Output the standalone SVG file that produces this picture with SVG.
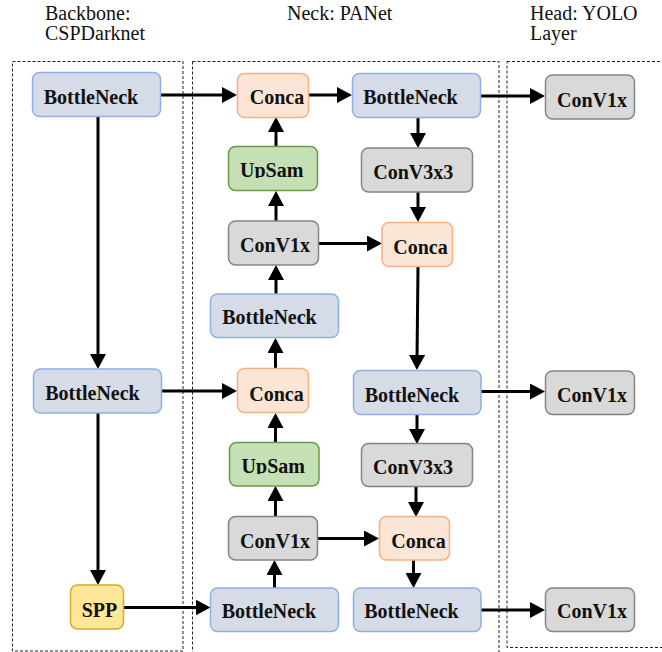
<svg xmlns="http://www.w3.org/2000/svg" width="662" height="652" viewBox="0 0 662 652">
  <style>
    .title { font-family: "Liberation Serif", "Times New Roman", serif; font-size: 20px; fill: #111; }
    .lbl { font-family: "Liberation Serif", "Times New Roman", serif; font-size: 20px; font-weight: bold; fill: #111; text-anchor: middle; }
    .frame { fill: none; stroke: #222; stroke-width: 1; stroke-dasharray: 3 2; }
    .bn { fill: #d5dbe7; stroke: #8fb0e4; stroke-width: 1.5; }
    .cc { fill: #fbe5d6; stroke: #f4b183; stroke-width: 1.5; }
    .up { fill: #c5e0b4; stroke: #6a9a45; stroke-width: 1.5; }
    .cv { fill: #d9d9d9; stroke: #858585; stroke-width: 1.5; }
    .spp { fill: #ffe699; stroke: #d4ac2a; stroke-width: 1.5; }
    .edge { fill: none; stroke: #000; stroke-width: 3; marker-end: url(#arrow); }
  </style>
  <defs>
    <marker id="arrow" viewBox="0 0 15 16" refX="5" refY="8" markerWidth="15" markerHeight="16" markerUnits="userSpaceOnUse" orient="auto">
      <path d="M0,0 L15,8 L0,16 z" fill="#000"/>
    </marker>
    <!-- the UpSam captions are cut at their baseline -->
    <clipPath id="clipUp1"><rect x="228" y="146" width="91" height="32"/></clipPath>
    <clipPath id="clipUp2"><rect x="229" y="442" width="91" height="32"/></clipPath>
  </defs>

  <!-- section headings -->
  <g id="headings">
    <text class="title" x="45" y="20">Backbone:</text>
    <text class="title" x="45" y="40">CSPDarknet</text>
    <text class="title" x="287" y="20">Neck: PANet</text>
    <text class="title" x="530" y="20">Head: YOLO</text>
    <text class="title" x="530" y="40">Layer</text>
  </g>

  <!-- dashed section frames -->
  <g id="frames">
    <rect class="frame" x="12.5" y="61.5" width="170.5" height="589.5"/>
    <rect class="frame" x="192.5" y="61.5" width="306.5" height="600"/>
    <rect class="frame" x="507" y="61.5" width="200" height="586"/>
  </g>

  <!-- connectors -->
  <g id="connectors">
    <path class="edge" d="M160,95 L227,95"/>
    <path class="edge" d="M309,95 L342,95"/>
    <path class="edge" d="M480,96 L535,96"/>
    <path class="edge" d="M418,117 L418,138"/>
    <path class="edge" d="M418,192 L418,212"/>
    <path class="edge" d="M318,243.5 L372,243.5"/>
    <path class="edge" d="M418,267 L417,360"/>
    <path class="edge" d="M276,147 L276,127"/>
    <path class="edge" d="M276,221 L276,201"/>
    <path class="edge" d="M276,294 L276,275"/>
    <path class="edge" d="M98,117 L98,359"/>
    <path class="edge" d="M161,391 L227,391"/>
    <path class="edge" d="M275.5,368 L275.5,348"/>
    <path class="edge" d="M275.5,442 L275.5,423"/>
    <path class="edge" d="M275.5,516.5 L275.5,496"/>
    <path class="edge" d="M274.5,588 L274.5,570"/>
    <path class="edge" d="M318,538.5 L369,538.5"/>
    <path class="edge" d="M417,414 L417,434"/>
    <path class="edge" d="M416,487 L416,507"/>
    <path class="edge" d="M413.5,560 L413.5,578"/>
    <path class="edge" d="M481,391.5 L535,391.5"/>
    <path class="edge" d="M481,610 L535,610"/>
    <path class="edge" d="M98,413 L98,575"/>
    <path class="edge" d="M123,607.5 L200.5,607.5"/>
  </g>

  <!-- backbone -->
  <g id="bb-bottleneck-1">
    <rect class="bn" x="32.5" y="72.5" width="128" height="44" rx="7"/>
    <text class="lbl" x="91" y="104">BottleNeck</text>
  </g>
  <g id="bb-bottleneck-2">
    <rect class="bn" x="33.5" y="369" width="128" height="44" rx="7"/>
    <text class="lbl" x="92.5" y="400">BottleNeck</text>
  </g>
  <g id="bb-spp">
    <rect class="spp" x="70.5" y="585" width="53" height="44" rx="7"/>
    <text class="lbl" x="99.5" y="617.3">SPP</text>
  </g>

  <!-- neck -->
  <g id="nk-conca-1">
    <rect class="cc" x="237.5" y="73.5" width="71" height="44" rx="7"/>
    <text class="lbl" x="277" y="104.3">Conca</text>
  </g>
  <g id="nk-bottleneck-out-1">
    <rect class="bn" x="352.5" y="73.5" width="128" height="44" rx="7"/>
    <text class="lbl" x="410.5" y="104">BottleNeck</text>
  </g>
  <g id="nk-upsam-1">
    <rect class="up" x="228.5" y="146.5" width="89" height="44" rx="7"/>
    <text class="lbl" x="271.7" y="177" clip-path="url(#clipUp1)">UpSam</text>
  </g>
  <g id="nk-conv3x3-1">
    <rect class="cv" x="361.5" y="148" width="111" height="44" rx="7"/>
    <text class="lbl" x="413.3" y="179">ConV3x3</text>
  </g>
  <g id="nk-conv1x-1">
    <rect class="cv" x="228.5" y="221" width="90" height="44" rx="7"/>
    <text class="lbl" x="275" y="252.3">ConV1x</text>
  </g>
  <g id="nk-conca-2">
    <rect class="cc" x="382" y="222.5" width="70.5" height="44" rx="7"/>
    <text class="lbl" x="420.5" y="254">Conca</text>
  </g>
  <g id="nk-bottleneck-mid">
    <rect class="bn" x="210.5" y="294" width="128" height="43.5" rx="7"/>
    <text class="lbl" x="269.5" y="324.3">BottleNeck</text>
  </g>
  <g id="nk-conca-3">
    <rect class="cc" x="237.5" y="368.5" width="71" height="44" rx="7"/>
    <text class="lbl" x="276.5" y="400.7">Conca</text>
  </g>
  <g id="nk-bottleneck-out-2">
    <rect class="bn" x="353.5" y="370.5" width="127.5" height="44" rx="7"/>
    <text class="lbl" x="412" y="401.7">BottleNeck</text>
  </g>
  <g id="nk-upsam-2">
    <rect class="up" x="229.5" y="442.5" width="89.5" height="43.5" rx="7"/>
    <text class="lbl" x="273.3" y="473.3" clip-path="url(#clipUp2)">UpSam</text>
  </g>
  <g id="nk-conv3x3-2">
    <rect class="cv" x="361.5" y="443.5" width="111" height="43" rx="7"/>
    <text class="lbl" x="413" y="474">ConV3x3</text>
  </g>
  <g id="nk-conv1x-2">
    <rect class="cv" x="228.5" y="516.5" width="89" height="43.5" rx="7"/>
    <text class="lbl" x="275" y="547.7">ConV1x</text>
  </g>
  <g id="nk-conca-4">
    <rect class="cc" x="379.5" y="516.5" width="70" height="43.5" rx="7"/>
    <text class="lbl" x="418.5" y="547.7">Conca</text>
  </g>
  <g id="nk-bottleneck-in">
    <rect class="bn" x="210.5" y="588" width="128" height="43.5" rx="7"/>
    <text class="lbl" x="268.9" y="618.3">BottleNeck</text>
  </g>
  <g id="nk-bottleneck-out-3">
    <rect class="bn" x="353.5" y="588" width="127.5" height="43.5" rx="7"/>
    <text class="lbl" x="411.5" y="618.3">BottleNeck</text>
  </g>

  <!-- head -->
  <g id="hd-conv1x-1">
    <rect class="cv" x="545.5" y="75" width="89" height="44" rx="7"/>
    <text class="lbl" x="592" y="106.7">ConV1x</text>
  </g>
  <g id="hd-conv1x-2">
    <rect class="cv" x="545.5" y="371" width="89" height="43.5" rx="7"/>
    <text class="lbl" x="592" y="401.7">ConV1x</text>
  </g>
  <g id="hd-conv1x-3">
    <rect class="cv" x="545.5" y="588" width="89" height="43.5" rx="7"/>
    <text class="lbl" x="592" y="618.3">ConV1x</text>
  </g>
</svg>
